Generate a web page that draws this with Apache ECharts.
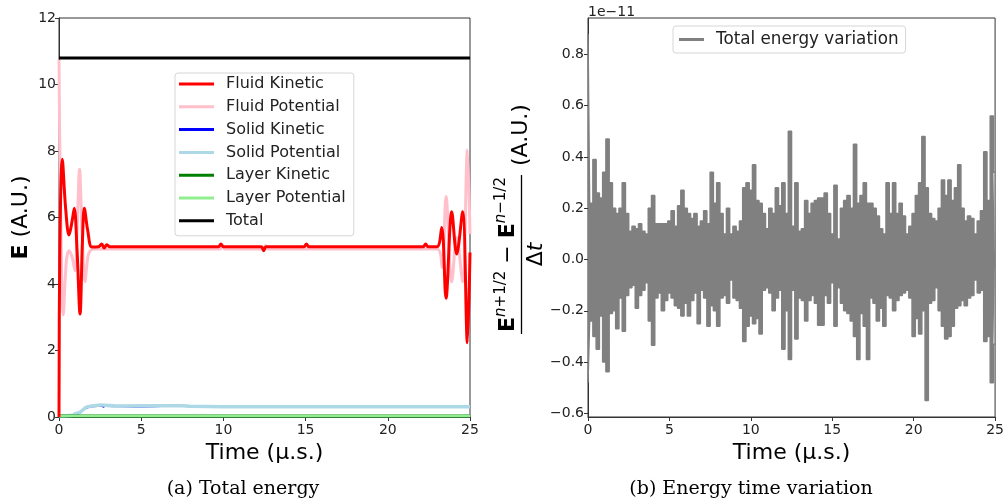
<!DOCTYPE html>
<html><head><meta charset="utf-8">
<script src="https://cdn.jsdelivr.net/npm/echarts@6/dist/echarts.min.js"></script>
<style>html,body{margin:0;padding:0;background:#fff}#c{width:1007px;height:504px}</style>
</head><body><div id="c"></div>
<script>
// ---------- data: left panel (Total energy) ----------
const fluidKineticT = [0, 0.05, 0.2, 0.4, 0.61, 0.8, 0.93, 1.1, 1.28, 1.42, 1.54, 1.75, 2.0, 2.4, 2.6, 2.75, 2.9, 3.1, 5.0, 9.7, 9.85, 10.0, 12.3, 12.45, 12.6, 14.9, 15.05, 15.2, 22.15, 22.3, 22.45, 23.0, 23.28, 23.54, 23.89, 24.19, 24.55, 24.84, 25.0];
const fluidKineticV = [0, 5.0, 7.75, 6.3, 5.47, 5.9, 6.28, 5.0, 3.1, 5.2, 6.28, 5.6, 5.11, 5.12, 5.2, 5.08, 5.18, 5.12, 5.12, 5.12, 5.2, 5.12, 5.12, 5.0, 5.12, 5.12, 5.2, 5.12, 5.12, 5.2, 5.12, 5.12, 5.7, 3.57, 6.17, 4.9, 6.17, 2.23, 4.95];
const fluidPotentialT = [0, 0.08, 0.26, 0.45, 0.61, 0.8, 0.97, 1.1, 1.25, 1.4, 1.58, 1.75, 1.9, 2.2, 9.8, 9.95, 10.1, 12.4, 12.55, 12.7, 23.0, 23.3, 23.54, 23.89, 24.19, 24.55, 24.84, 25.0];
const fluidPotentialV = [10.75, 7.0, 3.07, 4.7, 5.0, 4.8, 4.4, 5.6, 7.45, 5.6, 4.07, 4.8, 5.0, 5.05, 5.05, 5.15, 5.05, 5.05, 5.15, 5.05, 5.05, 4.5, 6.63, 4.07, 5.4, 4.07, 8.03, 5.5];
const solidKineticT = [0, 0.85, 1.2, 1.7, 2.6, 2.7, 2.8, 5.0, 7.5, 10.0, 25.0];
const solidKineticV = [0.0, 0.02, 0.1, 0.28, 0.33, 0.3, 0.32, 0.31, 0.33, 0.3, 0.3];
const solidPotentialT = [0, 0.85, 1.0, 1.3, 1.68, 2.0, 2.6, 3.5, 7.5, 8.0, 12.0, 25.0];
const solidPotentialV = [0.03, 0.05, 0.1, 0.15, 0.3, 0.33, 0.36, 0.33, 0.34, 0.32, 0.31, 0.31];
const layerKineticT = [0, 25];
const layerKineticV = [0.03, 0.03];
const layerPotentialT = [0, 25];
const layerPotentialV = [0.03, 0.03];
const totalT = [0, 25];
const totalV = [10.8, 10.8];

// ---------- data: right panel (Energy time variation, units 1e-11) ----------
// upper / lower envelopes of the oscillating signal, read every 0.2 µs
const varStep = 0.2;
const varUpper = [0.88,0.22,0.39,0.26,0.24,0.34,0.47,0.30,0.20,0.18,0.20,0.30,0.18,0.11,0.13,0.12,0.14,0.11,0.10,0.20,
  0.25,0.14,0.14,0.14,0.14,0.15,0.19,0.13,0.21,0.27,0.20,0.18,0.16,0.18,0.13,0.15,0.19,0.14,0.34,0.22,
  0.30,0.18,0.10,0.20,0.10,0.13,0.11,0.15,0.28,0.30,0.27,0.37,0.23,0.22,0.18,0.12,0.20,0.18,0.28,0.21,
  0.30,0.18,0.50,0.13,0.30,0.11,0.12,0.23,0.18,0.22,0.23,0.24,0.24,0.26,0.18,0.10,0.29,0.08,0.20,0.23,
  0.25,0.20,0.45,0.22,0.25,0.30,0.22,0.22,0.20,0.17,0.12,0.10,0.30,0.18,0.30,0.18,0.22,0.17,0.10,0.13,
  0.18,0.25,0.30,0.48,0.28,0.18,0.16,0.15,0.20,0.31,0.25,0.31,0.23,0.28,0.37,0.20,0.15,0.17,0.16,0.10,
  0.15,0.19,0.42,0.23,0.56,0.34];
const varLower = [-0.48,-0.24,-0.30,-0.35,-0.22,-0.40,-0.438,-0.21,-0.20,-0.27,-0.15,-0.28,-0.14,-0.11,-0.10,-0.19,-0.14,-0.12,-0.09,-0.24,
  -0.334,-0.15,-0.13,-0.20,-0.16,-0.13,-0.15,-0.18,-0.19,-0.22,-0.17,-0.22,-0.16,-0.13,-0.25,-0.12,-0.15,-0.26,-0.18,-0.20,
  -0.26,-0.15,-0.14,-0.17,-0.08,-0.15,-0.16,-0.19,-0.32,-0.26,-0.22,-0.25,-0.23,-0.29,-0.12,-0.11,-0.13,-0.20,-0.15,-0.12,
  -0.35,-0.20,-0.39,-0.12,-0.31,-0.15,-0.16,-0.24,-0.16,-0.14,-0.17,-0.256,-0.256,-0.14,-0.17,-0.09,-0.26,-0.11,-0.17,-0.20,
  -0.21,-0.24,-0.30,-0.39,-0.21,-0.26,-0.39,-0.15,-0.17,-0.24,-0.19,-0.26,-0.14,-0.15,-0.20,-0.16,-0.14,-0.13,-0.12,-0.15,
  -0.30,-0.23,-0.29,-0.20,-0.55,-0.17,-0.16,-0.11,-0.20,-0.26,-0.31,-0.30,-0.26,-0.19,-0.18,-0.16,-0.18,-0.15,-0.14,-0.08,
  -0.13,-0.12,-0.32,-0.30,-0.48,-0.33];

// ---------- tick labels ----------
const xTicks = [0, 5, 10, 15, 20, 25];
const leftYTicks = [0, 2, 4, 6, 8, 10, 12];
const rightYTicks = [-0.6, -0.4, -0.2, 0.0, 0.2, 0.4, 0.6, 0.8];
const captions = ['(a) Total energy', '(b) Energy time variation'];

// ---------- build ----------
const FONT = 'DejaVu Sans';
function pairs(t, v) { return t.map((x, i) => [x, v[i]]); }
const varTimes = varUpper.map((_, i) => +(i * varStep).toFixed(3));

const mctx = document.createElement('canvas').getContext('2d');
function tw(text, size, weight, style) {
  mctx.font = (style || 'normal') + ' ' + (weight || 'normal') + ' ' + size + 'px "' + FONT + '"';
  return mctx.measureText(text).width;
}
function tokenRow(tokens, baseline) {
  let w = 0;
  tokens.forEach(tk => { tk.w = tw(tk.t, tk.s, tk.b, tk.i); w += tk.w; });
  let x = -w / 2;
  const els = tokens.map(tk => {
    const el = {
      type: 'text', x: x, y: baseline - (tk.up || 0) - 0.346 * tk.s,
      style: { text: tk.t, fontSize: tk.s, fontFamily: FONT, fontWeight: tk.b || 'normal',
        fontStyle: tk.i || 'normal', fill: '#000', align: 'left', verticalAlign: 'middle' }
    };
    x += tk.w;
    return el;
  });
  return { els, w };
}
const num = tokenRow([
  { t: 'E', s: 22, b: 'bold' }, { t: 'n', s: 15, i: 'italic', up: 9 }, { t: '+1/2', s: 15, up: 9 },
  { t: ' − ', s: 22 },
  { t: 'E', s: 22, b: 'bold' }, { t: 'n', s: 15, i: 'italic', up: 9 }, { t: '−1/2', s: 15, up: 9 }
], -6);
const den = tokenRow([{ t: 'Δ', s: 22 }, { t: 't', s: 22, i: 'italic' }], 22);
const barL = Math.max(num.w, den.w) + 4;
const fracChildren = num.els.concat(den.els).concat([
  { type: 'line', shape: { x1: -barL / 2, y1: 0, x2: barL / 2, y2: 0 }, style: { stroke: '#000', lineWidth: 1.3 } },
  { type: 'text', x: barL / 2 + 9, y: 0, style: { text: '(A.U.)', fontSize: 22, fontFamily: FONT, fill: '#000', align: 'left', verticalAlign: 'middle' } }
]);

const axisCommon = {
  axisLine: { show: true, onZero: false, lineStyle: { color: '#333', width: 1 } },
  axisTick: { show: true, inside: false, length: 4, lineStyle: { color: '#333' } },
  splitLine: { show: false },
  nameTextStyle: { fontSize: 22, fontFamily: FONT, color: '#000' }
};
const tickLabel = { fontSize: 14, fontFamily: FONT, color: '#222' };

function lineSeries(name, t, v, color, width, z) {
  return { name, type: 'line', xAxisIndex: 0, yAxisIndex: 0, data: pairs(t, v), symbol: 'none',
    smooth: 0.35, lineStyle: { color, width }, itemStyle: { color }, z: z, silent: true };
}
function envSeries(v, origin) {
  return { name: 'Total energy variation', type: 'line', xAxisIndex: 1, yAxisIndex: 1, data: pairs(varTimes, v),
    step: 'middle', symbol: 'none', lineStyle: { color: '#808080', width: 1.5 }, itemStyle: { color: '#808080' },
    areaStyle: { color: '#808080', opacity: 1, origin: origin }, silent: true };
}

const option = {
  animation: false,
  backgroundColor: '#fff',
  textStyle: { fontFamily: FONT },
  grid: [
    { left: 59, top: 18, width: 411, height: 399, show: true, borderColor: '#333', borderWidth: 1, backgroundColor: 'transparent' },
    { left: 588, top: 18, width: 410, height: 399, show: true, borderColor: '#333', borderWidth: 1, backgroundColor: 'transparent' }
  ],
  xAxis: [
    Object.assign({}, axisCommon, { type: 'value', gridIndex: 0, min: 0, max: 25, interval: 5,
      axisLabel: Object.assign({ margin: 6 }, tickLabel),
      name: 'Time (µ.s.)', nameLocation: 'middle', nameGap: 19 }),
    Object.assign({}, axisCommon, { type: 'value', gridIndex: 1, min: 0, max: 25, interval: 5,
      axisLabel: Object.assign({ margin: 6 }, tickLabel),
      name: 'Time (µ.s.)', nameLocation: 'middle', nameGap: 19 })
  ],
  yAxis: [
    Object.assign({}, axisCommon, { type: 'value', gridIndex: 0, min: 0, max: 12, interval: 2,
      axisLabel: Object.assign({ margin: 3 }, tickLabel),
      name: '{b|E} (A.U.)', nameLocation: 'middle', nameGap: 27,
      nameTextStyle: { fontSize: 22, fontFamily: FONT, color: '#000',
        rich: { b: { fontSize: 22, fontWeight: 'bold', fontFamily: FONT, color: '#000' } } } }),
    Object.assign({}, axisCommon, { type: 'value', gridIndex: 1, min: -0.614, max: 0.942,
      axisTick: { show: true, length: 4, lineStyle: { color: '#333' }, customValues: rightYTicks },
      axisLabel: Object.assign({ margin: 4, customValues: rightYTicks,
        formatter: v => v.toFixed(1).replace('-', '−') }, tickLabel) })
  ],
  legend: [
    { data: ['Fluid Kinetic', 'Fluid Potential', 'Solid Kinetic', 'Solid Potential', 'Layer Kinetic', 'Layer Potential', 'Total'],
      orient: 'vertical', left: 175, top: 73, icon: 'rect', itemWidth: 35, itemHeight: 3, itemGap: 6.8,
      padding: [3, 8, 7, 4], borderColor: '#d6d6d6', borderWidth: 1, borderRadius: 3,
      backgroundColor: 'rgba(255,255,255,0.8)', selectedMode: false,
      textStyle: { fontSize: 16, fontFamily: FONT, color: '#222', padding: [0, 0, 0, 7] } },
    { data: ['Total energy variation'], left: 673, top: 26, icon: 'rect', itemWidth: 25, itemHeight: 3,
      padding: [5, 7, 5, 6], borderColor: '#d6d6d6', borderWidth: 1, borderRadius: 3,
      backgroundColor: 'rgba(255,255,255,0.8)', selectedMode: false,
      textStyle: { fontSize: 16.8, fontFamily: FONT, color: '#222', padding: [0, 0, 0, 7] } }
  ],
  series: [
    lineSeries('Fluid Kinetic', fluidKineticT, fluidKineticV, '#ff0000', 3, 3),
    lineSeries('Fluid Potential', fluidPotentialT, fluidPotentialV, '#ffc0cb', 3, 2),
    lineSeries('Solid Kinetic', solidKineticT, solidKineticV, '#0000ff', 1.5, 2),
    lineSeries('Solid Potential', solidPotentialT, solidPotentialV, '#add8e6', 3.5, 2),
    lineSeries('Layer Kinetic', layerKineticT, layerKineticV, '#008000', 3, 2),
    lineSeries('Layer Potential', layerPotentialT, layerPotentialV, '#90ee90', 2.5, 2),
    lineSeries('Total', totalT, totalV, '#000000', 3, 2),
    envSeries(varUpper, -0.03),
    envSeries(varLower, 0.03)
  ],
  graphic: [
    { type: 'group', x: 521.5, y: 254.5, rotation: Math.PI / 2, children: fracChildren },
    { type: 'text', x: 588, y: 12, style: { text: '1e−11', fontSize: 14, fontFamily: FONT, fill: '#222', align: 'left', verticalAlign: 'middle' } },
    { type: 'text', x: 243, y: 489, style: { text: captions[0], fontSize: 19, fontFamily: 'DejaVu Serif', fill: '#000', align: 'center', verticalAlign: 'middle' } },
    { type: 'text', x: 751, y: 489, style: { text: captions[1], fontSize: 19, fontFamily: 'DejaVu Serif', fill: '#000', align: 'center', verticalAlign: 'middle' } }
  ]
};
const chart = echarts.init(document.getElementById('c'), null, { renderer: 'canvas' });
chart.setOption(option);
</script>
</body></html>
